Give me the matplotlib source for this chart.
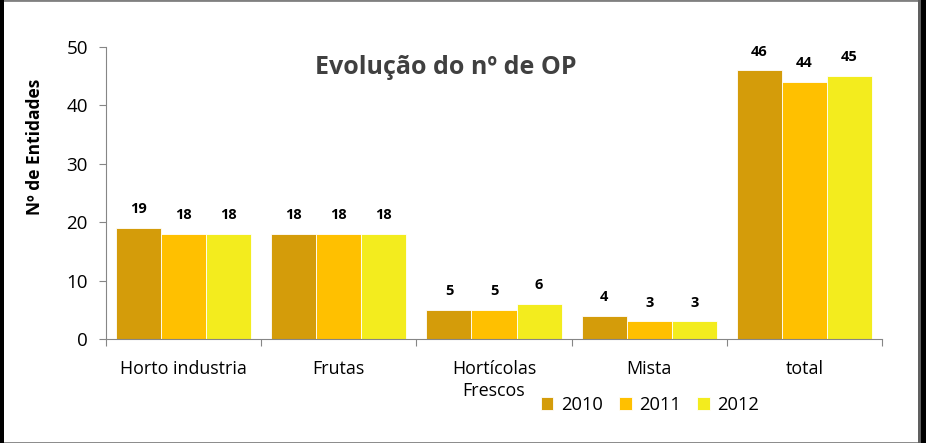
import matplotlib
matplotlib.use("Agg")
import matplotlib.pyplot as plt
from matplotlib.patches import Rectangle
import numpy as np

categories = ["Horto industria", "Frutas", "Hortícolas\nFrescos", "Mista", "total"]
years = ["2010", "2011", "2012"]
v2010 = [19, 18, 5, 4, 46]
v2011 = [18, 18, 5, 3, 44]
v2012 = [18, 18, 6, 3, 45]
series = [v2010, v2011, v2012]
colors = ["#D49C0A", "#FFC000", "#F3EC1E"]

plt.rcParams['font.family'] = ['Open Sans', 'DejaVu Sans']

fig = plt.figure(figsize=(9.26, 4.43), dpi=100)
ax = fig.add_axes([106/926, 1-339/443, (882-106)/926, (339-47)/443])

x = np.arange(len(categories))
w = 0.29
for i, (vals, c, yr) in enumerate(zip(series, colors, years)):
    bars = ax.bar(x + (i-1)*w, vals, w, color=c, edgecolor="white", linewidth=0.6, label=yr)
    for b, v in zip(bars, vals):
        ax.annotate(str(v), (b.get_x()+b.get_width()/2, v), xytext=(0, 8.5),
                    textcoords="offset points", ha="center", va="bottom",
                    fontsize=10.5, fontweight="bold", color="black")

ax.set_xlim(-0.5, 4.5)
ax.set_ylim(0, 50)
ax.set_yticks([0, 10, 20, 30, 40, 50])
ax.tick_params(axis='y', labelsize=13.5, length=5, color="#868686", pad=8)
ax.set_xticks(np.arange(-0.5, 5, 1))
ax.set_xticklabels([])
ax.tick_params(axis='x', which='major', length=5, color="#868686")
ax.set_xticks(x, minor=True)
ax.set_xticklabels(categories, minor=True, fontsize=12.9, linespacing=1.3)
ax.tick_params(axis='x', which='minor', length=0, pad=15)
for lab in ax.get_xticklabels(minor=True):
    lab.set_verticalalignment('top')
for s in ["top", "right"]:
    ax.spines[s].set_visible(False)
for s in ["left", "bottom"]:
    ax.spines[s].set_color("#868686")

fig.text(35/926, 1-147/443, "Nº de Entidades", rotation=90, ha="center", va="center",
         fontsize=12.5, fontweight="bold", color="black")

fig.text(446/926, 1-68/443, "Evolução do nº de OP", ha="center", va="center",
         fontsize=18, fontweight="bold", color="#404040")

fig.legend(loc="center", bbox_to_anchor=(650/926, 1-405/443), ncol=3, frameon=False,
           fontsize=13.2, handlelength=0.7, handleheight=0.75, handletextpad=0.4,
           columnspacing=0.9)

# frame
fig.patches.append(Rectangle((0, 0), 1, 1, transform=fig.transFigure, fill=False,
                             edgecolor="#808080", linewidth=2.0))
fig.patches.append(Rectangle((0, 0), 3.5/926, 1, transform=fig.transFigure,
                             facecolor="black", edgecolor="none"))
fig.patches.append(Rectangle((1-5/926, 0), 5/926, 1, transform=fig.transFigure,
                             facecolor="black", edgecolor="none"))
fig.patches.append(Rectangle((1-8/926, 0), 3/926, 1, transform=fig.transFigure,
                             facecolor="#606060", edgecolor="none"))

fig.savefig("out.png", dpi=100)
